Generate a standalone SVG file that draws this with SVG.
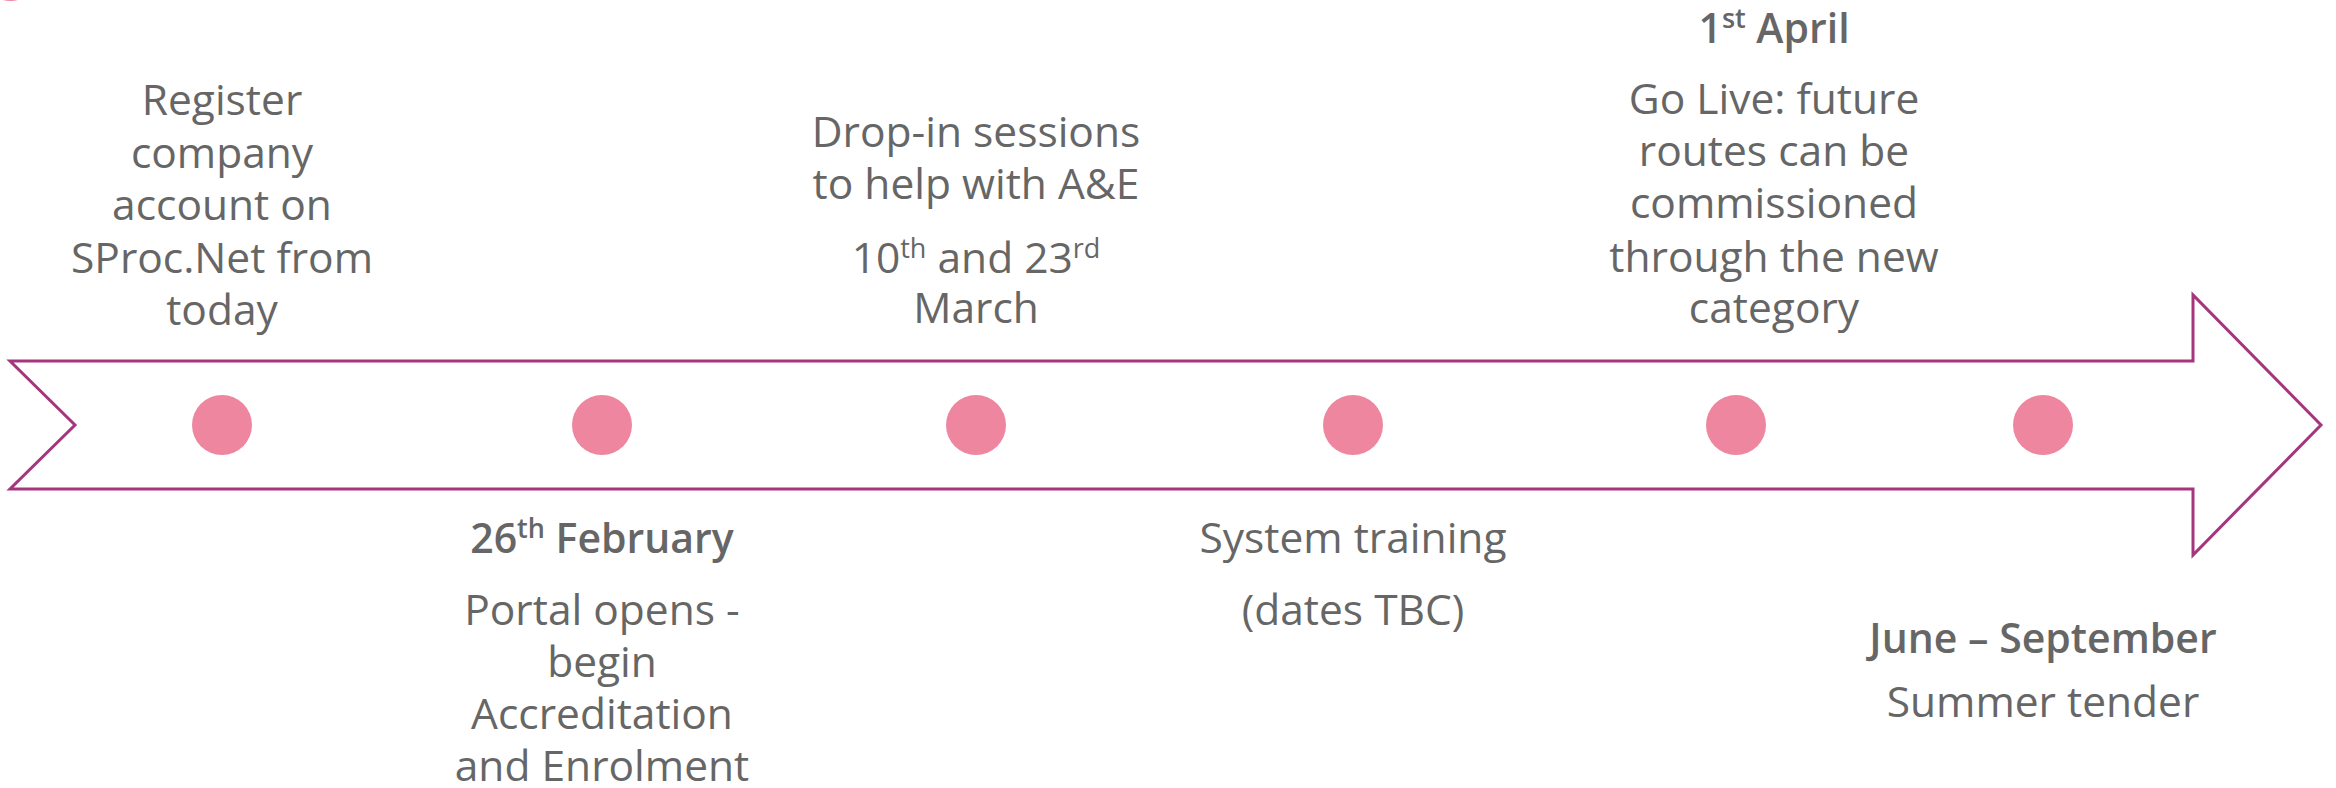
<svg xmlns="http://www.w3.org/2000/svg" width="2336" height="788" viewBox="0 0 2336 788">
<style>
.t{font-family:"Open Sans","Noto Sans","Liberation Sans",sans-serif;font-size:42.5px;fill:#666666;text-anchor:middle}
.b{font-weight:600;font-size:41px}
.s{font-size:27px}
.dot{fill:#EF86A0}
.arrow{fill:#ffffff;stroke:#A5367D;stroke-width:3;stroke-linejoin:miter}
</style>
<rect width="2336" height="788" fill="#ffffff"/>
<ellipse cx="10.5" cy="-29" rx="30" ry="30" class="dot"/>
<g id="connectors">
<path class="arrow" d="M10,361 L2193,361 L2193,295 L2321,425 L2193,555 L2193,489 L10,489 L75,425 Z"/>
</g>
<g id="node1">
<circle class="dot" cx="222" cy="425" r="30"/>
<text class="t" x="222" y="115">Register</text>
<text class="t" x="222" y="168">company</text>
<text class="t" x="222" y="220">account on</text>
<text class="t" x="222" y="273">SProc.Net from</text>
<text class="t" x="222" y="325">today</text>
</g>
<g id="node2">
<circle class="dot" cx="602" cy="425" r="30"/>
<text class="t b" x="602" y="553">26<tspan class="s" dy="-15">th</tspan><tspan dy="15"> February</tspan></text>
<text class="t" x="602" y="625">Portal opens -</text>
<text class="t" x="602" y="677">begin</text>
<text class="t" x="602" y="729">Accreditation</text>
<text class="t" x="602" y="781">and Enrolment</text>
</g>
<g id="node3">
<circle class="dot" cx="976" cy="425" r="30"/>
<text class="t" x="976" y="147">Drop-in sessions</text>
<text class="t" x="976" y="199">to help with A&amp;E</text>
<text class="t" x="976" y="273">10<tspan class="s" dy="-15">th</tspan><tspan dy="15"> and 23</tspan><tspan class="s" dy="-15">rd</tspan></text>
<text class="t" x="976" y="323">March</text>
</g>
<g id="node4">
<circle class="dot" cx="1353" cy="425" r="30"/>
<text class="t" x="1353" y="553">System training</text>
<text class="t" x="1353" y="625">(dates TBC)</text>
</g>
<g id="node5">
<circle class="dot" cx="1736" cy="425" r="30"/>
<text class="t b" x="1774" y="43">1<tspan class="s" dy="-15">st</tspan><tspan dy="15"> April</tspan></text>
<text class="t" x="1774" y="114">Go Live: future</text>
<text class="t" x="1774" y="166">routes can be</text>
<text class="t" x="1774" y="218">commissioned</text>
<text class="t" x="1774" y="272">through the new</text>
<text class="t" x="1774" y="323">category</text>
</g>
<g id="node6">
<circle class="dot" cx="2043" cy="425" r="30"/>
<text class="t b" x="2043" y="653">June – September</text>
<text class="t" x="2043" y="717">Summer tender</text>
</g>
</svg>
